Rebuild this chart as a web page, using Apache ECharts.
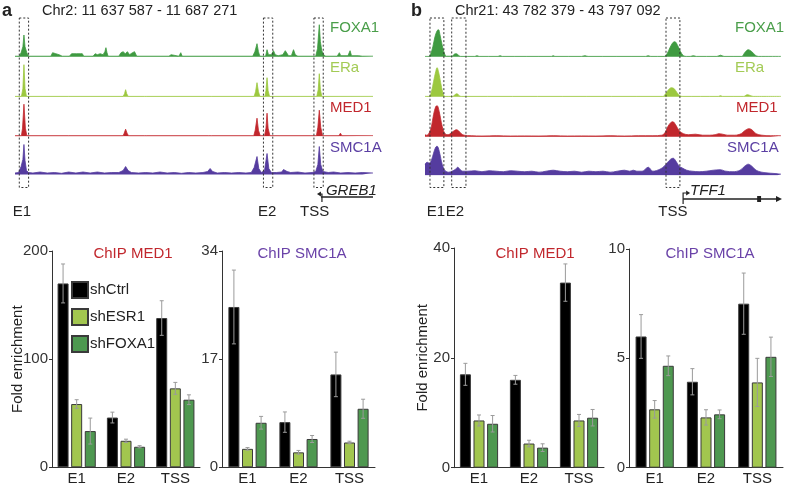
<!DOCTYPE html>
<html><head><meta charset="utf-8">
<script src="https://cdn.jsdelivr.net/npm/echarts@6/dist/echarts.min.js"></script>
<style>html,body{margin:0;padding:0;background:#fff}#c{width:787px;height:488px}</style>
</head><body><div id="c"></div>
<script>
// ---------- DATA ----------
const categories = ['E1', 'E2', 'TSS'];
const seriesNames = ['shCtrl', 'shESR1', 'shFOXA1'];

// Panel a, ChIP MED1
const aMed1Ctrl = [170, 46, 138];   const aMed1CtrlErr = [18, 5, 16];
const aMed1Esr1 = [58.5, 24.5, 73]; const aMed1Esr1Err = [4, 1.5, 5.5];
const aMed1Foxa1 = [33.5, 19, 62.5]; const aMed1Foxa1Err = [12, 1, 4.5];
// Panel a, ChIP SMC1A
const aSmcCtrl = [25.2, 7.1, 14.6]; const aSmcCtrlErr = [5.8, 1.6, 3.5];
const aSmcEsr1 = [2.9, 2.35, 3.9];  const aSmcEsr1Err = [0.2, 0.3, 0.2];
const aSmcFoxa1 = [7.0, 4.45, 9.2]; const aSmcFoxa1Err = [1.0, 0.55, 1.5];
// Panel b, ChIP MED1
const bMed1Ctrl = [17, 16, 33.7];   const bMed1CtrlErr = [2, 0.8, 3.4];
const bMed1Esr1 = [8.6, 4.4, 8.6];  const bMed1Esr1Err = [1, 0.6, 1.1];
const bMed1Foxa1 = [8.0, 3.65, 9.1]; const bMed1Foxa1Err = [1.5, 0.7, 1.5];
// Panel b, ChIP SMC1A
const bSmcCtrl = [6.0, 3.93, 7.5];  const bSmcCtrlErr = [1.0, 0.6, 1.4];
const bSmcEsr1 = [2.67, 2.3, 3.9];  const bSmcEsr1Err = [0.4, 0.35, 1.1];
const bSmcFoxa1 = [4.66, 2.44, 5.07]; const bSmcFoxa1Err = [0.45, 0.2, 0.9];

// Axis ticks [min, max, interval]
const aMed1Axis = [0, 200, 100];
const aSmcAxis = [0, 34, 17];
const bMed1Axis = [0, 40, 20];
const bSmcAxis = [0, 10, 5];

// Genome tracks (position 0-1000 across region, signal height)
const aFoxa1Track = [[0,0.5],[12,0.5],[17,4],[22,10],[25,21.7],[28,10],[33,4],[38,0.5],[100,0.5],[105,4],[110,6],[114,3],[118,5],[123,2],[128,3],[132,0.5],[152,0.5],[158,3],[163,1],[172,3],[177,4],[182,3],[188,3],[192,0.5],[218,0.5],[224,3],[230,2],[238,3],[246,2],[251,5],[254,9],[257,4],[260,0.5],[290,0.5],[296,4],[302,5],[308,3],[314,5],[320,2],[328,4],[334,5],[340,0.5],[430,0.5],[436,2],[440,0.5],[458,0.5],[463,4],[467,0.5],[550,0.5],[555,2],[559,0.5],[664,0.5],[670,5],[676,13],[680,5],[684,0.5],[700,0.5],[704,7],[708,2],[716,2],[722,6],[727,2],[735,1],[748,2],[755,6],[760,6],[764,1],[772,1],[778,7],[783,2],[790,0.5],[840,0.5],[845,8],[850,32],[853,15],[857,6],[862,2],[868,0.5],[900,0.5],[906,4],[910,1],[930,1],[936,6],[940,1],[960,1],[965,2],[970,0.5],[1000,0.5]];
const aEraTrack = [[0,0.3],[18,0.3],[22,8],[25,32],[28,8],[32,0.3],[150,0.3],[152,1],[154,0.3],[302,0.3],[306,3],[309,7],[312,3],[316,0.3],[362,0.3],[365,1],[368,0.3],[542,0.3],[545,2],[548,0.3],[668,0.3],[672,5],[676,14],[680,5],[684,0.3],[698,0.3],[701,6],[704,19],[707,6],[711,0.3],[843,0.3],[847,7],[850,23],[853,7],[857,0.3],[1000,0.3]];
const aMed1Track = [[0,0.5],[18,0.5],[21,8],[25,32],[29,8],[33,0.5],[150,0.5],[152,1],[155,0.5],[302,0.5],[305,3],[309,7],[313,3],[317,0.5],[362,0.5],[365,1.5],[368,0.5],[541,0.5],[545,2],[549,0.5],[667,0.5],[671,6],[676,18],[680,6],[685,0.5],[697,0.5],[701,8],[704,23],[707,8],[712,0.5],[726,0.5],[730,1.5],[740,0.5],[842,0.5],[846,9],[850,26],[854,9],[859,0.5],[905,0.5],[909,3],[913,0.5],[1000,0.5]];
const aSmcTrack = [[0,1.5],[10,2],[17,8],[22,15],[25,30],[28,14],[32,4],[38,2],[50,1.5],[70,2.5],[90,1.5],[110,2],[130,1.2],[150,2.5],[170,1.5],[190,2.5],[210,1.5],[230,2.5],[250,1.5],[270,2],[290,2],[302,4],[309,8],[316,4],[325,2],[345,1.5],[365,2],[385,1.5],[405,2.5],[425,1.5],[445,2],[465,1.2],[485,2],[505,1.5],[525,2],[538,3],[545,6],[552,3],[565,1.5],[585,2],[605,1.5],[625,2],[645,1.5],[660,2],[668,7],[676,18],[681,6],[688,2],[697,4],[704,21],[709,6],[716,2],[730,2],[745,2.5],[750,5],[755,6],[760,3],[770,2],[790,2.5],[810,1.5],[830,2],[840,3],[846,10],[850,28],[854,10],[860,3],[875,2],[890,2.5],[910,1.5],[930,2],[950,1.5],[970,2],[1000,1.5]];

const bFoxa1Track = [[0,0.3],[10,0.3],[16,3],[22,10],[28,20],[34,26],[38,27],[42,22],[48,12],[54,4],[60,0.5],[76,0.5],[82,2.5],[88,3],[94,1.5],[100,0.3],[140,0.3],[146,1],[152,0.3],[205,0.3],[211,1],[217,0.3],[355,0.3],[360,1],[365,0.3],[440,0.3],[449,1],[458,0.3],[620,0.3],[627,1],[634,0.3],[672,0.3],[680,3],[688,9],[696,14],[702,15],[710,11],[718,5],[726,1],[735,0.3],[745,0.3],[754,1],[762,0.3],[820,0.3],[830,1.5],[840,0.3],[890,0.3],[898,4],[908,7],[918,5],[928,1.5],[936,0.3],[1000,0.3]];
const bEraTrack = [[0,0.3],[12,0.3],[18,5],[24,15],[30,25],[34,29],[38,25],[44,14],[50,4],[56,0.3],[78,0.3],[84,2],[90,3],[96,1],[102,0.3],[668,0.3],[676,3],[684,7],[692,9],[700,8],[708,4],[716,1],[724,0.3],[824,0.3],[830,1],[836,0.3],[895,0.3],[905,2],[915,1],[922,0.3],[1000,0.3]];
const bMed1Track = [[0,2],[5,1.5],[12,4],[18,10],[24,22],[30,30],[34,31],[40,25],[46,14],[52,6],[58,2.5],[65,2],[74,4],[82,6],[88,7],[94,6],[102,3],[110,1.5],[130,1],[160,0.7],[200,1],[240,0.7],[280,0.8],[320,0.7],[360,1],[400,0.7],[440,0.8],[480,0.7],[520,1],[560,0.7],[600,1],[640,1],[665,1.5],[674,4],[682,10],[690,14],[696,15],[704,12],[714,6],[726,3],[740,2],[760,2.5],[780,1.5],[800,1.5],[815,2],[826,3],[836,2.5],[850,1.5],[870,1.5],[888,3],[898,6],[910,8],[918,7],[930,3],[946,1.5],[970,1],[1000,1]];
const bSmcTrack = [[0,11],[6,13],[12,12],[18,15],[24,22],[30,28],[34,29],[40,24],[46,14],[52,7],[58,4],[66,3],[76,4],[86,6],[92,8],[98,6],[106,4],[120,4],[140,4.5],[160,3.5],[180,4.5],[200,4],[220,3.5],[240,4.5],[260,4],[280,3.5],[300,4],[320,3],[340,4],[360,5],[380,4],[400,3.5],[420,4],[440,3],[460,4],[480,3.5],[500,4],[520,3],[540,4],[560,5],[575,4],[585,5],[595,4],[610,4],[627,8],[640,4],[660,6],[672,9],[682,13],[690,16],[697,17],[705,14],[714,9],[724,7],[735,5],[750,4],[770,3.5],[790,4],[810,5],[829,5.5],[845,4],[865,3.5],[885,5],[898,9],[908,11],[918,9],[930,5],[946,3],[970,2],[990,1.5],[1000,1]];

const trackNames = ['FOXA1', 'ERa', 'MED1', 'SMC1A'];
// Highlighted regions [start, end] in track positions
const aBoxes = [[12, 38], [694, 720], [835, 861]];
const bBoxes = [[14, 53], [75, 115], [677, 716]];
const aBoxLabels = ['E1', 'E2', 'TSS'];
const bBoxLabels = ['E1', 'E2', 'TSS'];
// Genes: [tss, end]
const aGene = [849, 1000];
const bGene = [725, 1000];
const bGeneExon = [933, 944];

// ---------- STYLE / LAYOUT ----------
const FONT = '"Liberation Sans", Arial, Helvetica, sans-serif';
const trackColors = ['#3f9a41', '#9cc83f', '#c1272d', '#553c9f'];
const labelColors = ['#4a9e4a', '#a3cb55', '#c1272d', '#5b3fa3'];
const barColors = ['#000000', '#a2c64f', '#4e9850'];
const BAR_W = 11, BAR_GAP = 2.6;

const chart = echarts.init(document.getElementById('c'), null, {renderer: 'canvas'});

const grids = [], xAxes = [], yAxes = [], series = [];

// tracks
const aTracks = [aFoxa1Track, aEraTrack, aMed1Track, aSmcTrack];
const bTracks = [bFoxa1Track, bEraTrack, bMed1Track, bSmcTrack];
const aBase = [56.7, 96.7, 136.2, 174.5];
const bBase = [56.7, 96.7, 136.7, 175.2];
const TRACK_H = 34;
function addTrack(data, left, width, base, color, smooth) {
  const idx = grids.length;
  grids.push({left: left, width: width, top: base - TRACK_H, height: TRACK_H});
  xAxes.push({gridIndex: idx, type: 'value', min: 0, max: 1000, show: false});
  yAxes.push({gridIndex: idx, type: 'value', min: 0, max: TRACK_H, show: false});
  series.push({type: 'line', xAxisIndex: idx, yAxisIndex: idx, data: data, showSymbol: false,
    smooth: smooth, lineStyle: {color: color, width: 0.8}, areaStyle: {color: color, opacity: 1},
    silent: true});
  return idx;
}
const aTrackIdx = aTracks.map((d, i) => addTrack(d, 15, 358, aBase[i], trackColors[i], false));
const bTrackIdx = bTracks.map((d, i) => addTrack(d, 425, 356, bBase[i], trackColors[i], 0.35));

// bar charts
function errRender(params, api) {
  const ci = api.value(0), si = api.value(1), v = api.value(2), e = api.value(3);
  const p = api.coord([ci, v]);
  const t = api.coord([ci, v + e]);
  const b = api.coord([ci, v - e]);
  const x = p[0] + (si - 1) * (BAR_W + BAR_GAP);
  const st = {stroke: '#9b9b9b', lineWidth: 1};
  return {type: 'group', children: [
    {type: 'line', shape: {x1: x, y1: t[1], x2: x, y2: b[1]}, style: st},
    {type: 'line', shape: {x1: x - 2, y1: t[1], x2: x + 2, y2: t[1]}, style: st},
    {type: 'line', shape: {x1: x - 2, y1: b[1], x2: x + 2, y2: b[1]}, style: st}
  ]};
}
function addBarChart(g, axis, vals, errs, nameGap) {
  const idx = grids.length;
  grids.push(g);
  xAxes.push({gridIndex: idx, type: 'category', data: categories,
    axisLine: {lineStyle: {color: '#333', width: 1}}, axisTick: {show: false},
    axisLabel: {fontFamily: FONT, fontSize: 15, color: '#222', margin: 4}});
  yAxes.push({gridIndex: idx, type: 'value', min: axis[0], max: axis[1], interval: axis[2],
    axisLine: {show: true, lineStyle: {color: '#333', width: 1}},
    axisTick: {show: true, length: 3, lineStyle: {color: '#333'}},
    splitLine: {show: false},
    axisLabel: {fontFamily: FONT, fontSize: 15, color: '#333', margin: 4},
    name: nameGap ? 'Fold enrichment' : '', nameLocation: 'middle', nameGap: nameGap || 20, nameRotate: 90,
    nameMoveOverlap: false,
    nameTextStyle: {fontFamily: FONT, fontSize: 15, color: '#222'}});
  const errData = [];
  vals.forEach((arr, si) => {
    series.push({type: 'bar', name: seriesNames[si], xAxisIndex: idx, yAxisIndex: idx, data: arr,
      barWidth: BAR_W, barGap: (BAR_GAP / BAR_W * 100) + '%',
      itemStyle: {color: barColors[si], borderColor: '#3a3a3a', borderWidth: 1}});
    arr.forEach((v, ci) => errData.push([ci, si, v, errs[si][ci]]));
  });
  series.push({type: 'custom', name: 'err' + idx, xAxisIndex: idx, yAxisIndex: idx, data: errData,
    renderItem: errRender, z: 5, silent: true, encode: {x: 0, y: 2}});
}
addBarChart({left: 52, top: 251, width: 148, height: 216.3}, aMed1Axis,
  [aMed1Ctrl, aMed1Esr1, aMed1Foxa1], [aMed1CtrlErr, aMed1Esr1Err, aMed1Foxa1Err], 27);
addBarChart({left: 222, top: 251, width: 153, height: 216.3}, aSmcAxis,
  [aSmcCtrl, aSmcEsr1, aSmcFoxa1], [aSmcCtrlErr, aSmcEsr1Err, aSmcFoxa1Err], 0);
addBarChart({left: 454, top: 248, width: 150, height: 219.7}, bMed1Axis,
  [bMed1Ctrl, bMed1Esr1, bMed1Foxa1], [bMed1CtrlErr, bMed1Esr1Err, bMed1Foxa1Err], 23.5);
addBarChart({left: 629, top: 249, width: 154, height: 218.7}, bSmcAxis,
  [bSmcCtrl, bSmcEsr1, bSmcFoxa1], [bSmcCtrlErr, bSmcEsr1Err, bSmcFoxa1Err], 0);

const titleStyle = (c) => ({fontFamily: FONT, fontSize: 15, fontWeight: 'normal', color: c});
const option = {
  animation: false,
  backgroundColor: '#fff',
  grid: grids, xAxis: xAxes, yAxis: yAxes, series: series,
  title: [
    {text: 'ChIP MED1', left: 128, top: 241, textAlign: 'center', textStyle: titleStyle('#c1272d')},
    {text: 'ChIP SMC1A', left: 297, top: 241, textAlign: 'center', textStyle: titleStyle('#6a42a8')},
    {text: 'ChIP MED1', left: 530, top: 241, textAlign: 'center', textStyle: titleStyle('#c1272d')},
    {text: 'ChIP SMC1A', left: 705, top: 241, textAlign: 'center', textStyle: titleStyle('#6a42a8')}
  ],
  legend: {data: seriesNames, orient: 'vertical', left: 71, top: 281, padding: 0, itemWidth: 16, itemHeight: 16,
    itemGap: 9, icon: 'rect', textStyle: {fontFamily: FONT, fontSize: 15, color: '#222', padding: [0, 0, 0, -3]},
    selectedMode: false}
};
chart.setOption(option);

// ---------- annotations (positions through the track axes) ----------
const g = [];
function txt(x, y, s, opts) {
  g.push(Object.assign({type: 'text', x: x, y: y, silent: true,
    style: Object.assign({text: s, fontFamily: FONT, fontSize: 15, fill: '#222', textVerticalAlign: 'middle'}, opts || {})}));
}
txt(2, 11, 'a', {fontSize: 18, fontWeight: 'bold'});
txt(42, 11, 'Chr2: 11 637 587 - 11 687 271', {fontSize: 14.5});
txt(411, 11, 'b', {fontSize: 18, fontWeight: 'bold'});
txt(455, 11, 'Chr21: 43 782 379 - 43 797 092', {fontSize: 14.5});

const aLabelY = [27.5, 68, 108, 148];
trackNames.forEach((n, i) => txt(330, aLabelY[i], n, {fill: labelColors[i]}));
const bLabelX = [735, 735, 736, 727];
trackNames.forEach((n, i) => txt(bLabelX[i], aLabelY[i], n, {fill: labelColors[i]}));

function boxes(list, labels, gi, lblShift) {
  list.forEach((bx, i) => {
    const x1 = chart.convertToPixel({gridIndex: gi}, [bx[0], 0])[0];
    const x2 = chart.convertToPixel({gridIndex: gi}, [bx[1], 0])[0];
    g.push({type: 'rect', silent: true, z: 10, shape: {x: x1, y: 18, width: x2 - x1, height: 169.5},
      style: {fill: 'none', stroke: '#333', lineWidth: 1, lineDash: [2, 2]}});
    txt((x1 + x2) / 2 + lblShift[i], 212, labels[i], {textAlign: 'center'});
  });
}
boxes(aBoxes, aBoxLabels, aTrackIdx[0], [-2, -1, -4]);
boxes(bBoxes, bBoxLabels, bTrackIdx[0], [-1, -4, 0]);

// gene a (GREB1, pointing left)
(function () {
  const x1 = chart.convertToPixel({gridIndex: aTrackIdx[3]}, [aGene[0], 0])[0];
  const x2 = chart.convertToPixel({gridIndex: aTrackIdx[3]}, [aGene[1], 0])[0];
  g.push({type: 'line', silent: true, shape: {x1: x1 + 2, y1: 197, x2: x2, y2: 197}, style: {stroke: '#222', lineWidth: 1.6}});
  g.push({type: 'polyline', silent: true, shape: {points: [[x1 + 3, 202], [x1 + 3, 194], [x1 + 1, 194]]}, style: {stroke: '#222', lineWidth: 1.2, fill: 'none'}});
  g.push({type: 'polygon', silent: true, shape: {points: [[x1 - 2, 194], [x1 + 2, 191.5], [x1 + 2, 196.5]]}, style: {fill: '#222'}});
  txt(x1 + 7, 190.5, 'GREB1', {fontStyle: 'italic'});
})();
// gene b (TFF1, pointing right)
(function () {
  const x1 = chart.convertToPixel({gridIndex: bTrackIdx[3]}, [bGene[0], 0])[0];
  const x2 = chart.convertToPixel({gridIndex: bTrackIdx[3]}, [bGene[1], 0])[0];
  const e1 = chart.convertToPixel({gridIndex: bTrackIdx[3]}, [bGeneExon[0], 0])[0];
  const e2 = chart.convertToPixel({gridIndex: bTrackIdx[3]}, [bGeneExon[1], 0])[0];
  g.push({type: 'line', silent: true, shape: {x1: x1, y1: 199, x2: x2 - 3, y2: 199}, style: {stroke: '#222', lineWidth: 1.5}});
  g.push({type: 'polygon', silent: true, shape: {points: [[x2 + 1, 199], [x2 - 5, 196], [x2 - 5, 202]]}, style: {fill: '#222'}});
  g.push({type: 'rect', silent: true, shape: {x: e1, y: 196, width: e2 - e1, height: 6}, style: {fill: '#222'}});
  g.push({type: 'polyline', silent: true, shape: {points: [[x1, 204], [x1, 193], [x1 + 3, 193]]}, style: {stroke: '#222', lineWidth: 1.2, fill: 'none'}});
  g.push({type: 'polygon', silent: true, shape: {points: [[x1 + 7, 193], [x1 + 3, 190.5], [x1 + 3, 195.5]]}, style: {fill: '#222'}});
  txt(x1 + 7, 190.5, 'TFF1', {fontStyle: 'italic'});
})();

chart.setOption({graphic: g});
</script>
</body></html>
